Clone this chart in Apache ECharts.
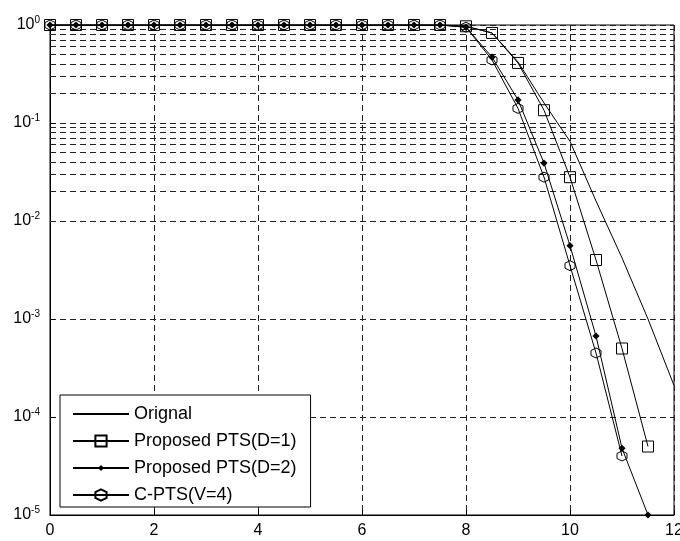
<!DOCTYPE html>
<html>
<head>
<meta charset="utf-8">
<script src="https://cdn.jsdelivr.net/npm/echarts@6/dist/echarts.min.js"></script>
<style>
  html, body { margin: 0; padding: 0; background: #fff; }
  #main { width: 680px; height: 541px; }
</style>
</head>
<body>
<div id="main"></div>
<script>
// x positions (dB) shared by all curves
var xs = [0, 0.5, 1, 1.5, 2, 2.5, 3, 3.5, 4, 4.5, 5, 5.5, 6, 6.5, 7, 7.5,
          8, 8.5, 9, 9.5, 10, 10.5, 11, 11.5, 12];

var original = [1, 1, 1, 1, 1, 1, 1, 1, 1, 1, 1, 1, 1, 1, 1, 1,
                0.97, 0.83, 0.42, 0.16, 0.065, 0.016, 4.2e-3, 1.0e-3, 2.1e-4];
var pts1 = [1, 1, 1, 1, 1, 1, 1, 1, 1, 1, 1, 1, 1, 1, 1, 1,
            0.97, 0.83, 0.41, 0.135, 0.028, 4e-3, 5e-4, 5e-5];
var pts2 = [1, 1, 1, 1, 1, 1, 1, 1, 1, 1, 1, 1, 1, 1, 1, 1,
            0.95, 0.47, 0.172, 0.039, 5.6e-3, 6.7e-4, 4.8e-5, 1e-5];
var cpts = [1, 1, 1, 1, 1, 1, 1, 1, 1, 1, 1, 1, 1, 1, 1, 1,
            0.95, 0.44, 0.141, 0.028, 3.5e-3, 4.5e-4, 4e-5];

var names = ['Orignal', 'Proposed PTS(D=1)', 'Proposed PTS(D=2)', 'C-PTS(V=4)'];
var xTicks = [0, 2, 4, 6, 8, 10, 12];
var decades = [-5, -4, -3, -2, -1, 0];

function pairs(vals) {
  return vals.map(function (v, i) { return [xs[i], v]; });
}

// minor log grid lines 2..9 in every decade
var minorLines = [];
decades.slice(0, -1).forEach(function (d) {
  for (var m = 2; m <= 9; m++) {
    minorLines.push({ yAxis: m * Math.pow(10, d) });
  }
});

var font = 'Liberation Sans, Arial, sans-serif';
var dash = { color: '#222', width: 1, type: [6, 4] };
var hexagon = 'path://M0,-10L8.66,-5L8.66,5L0,10L-8.66,5L-8.66,-5Z';
// small diamond inside a padded box so the legend copy stays small too
var dot = 'path://M0,0M20,20M10,4.5L15.5,10L10,15.5L4.5,10Z';

var myChart = echarts.init(document.getElementById('main'));

var option = {
  backgroundColor: '#fff',
  animation: false,
  grid: {
    left: 50, right: 6, top: 25, bottom: 26,
    outerBoundsMode: 'none',
    show: true, borderColor: '#000', borderWidth: 1
  },
  legend: {
    orient: 'vertical',
    left: 60, top: 395,
    data: [
      { name: names[0], itemStyle: { opacity: 0 } },
      names[1], names[2], names[3]
    ],
    backgroundColor: '#fff',
    borderColor: '#000',
    borderWidth: 1,
    padding: [10, 14, 3, 12],
    itemWidth: 56,
    itemHeight: 14,
    itemGap: 9,
    textStyle: { fontFamily: font, fontSize: 18, color: '#000' }
  },
  xAxis: {
    type: 'value',
    min: 0, max: 12, interval: 2,
    axisLine: { lineStyle: { color: '#000' } },
    axisTick: { inside: true, length: 5, lineStyle: { color: '#000' } },
    axisLabel: {
      color: '#000', fontFamily: font, fontSize: 16, margin: 8,
      customValues: xTicks
    },
    splitLine: { show: true, lineStyle: dash }
  },
  yAxis: {
    type: 'log',
    logBase: 10,
    min: 1e-5, max: 1,
    axisLine: { lineStyle: { color: '#000' } },
    axisTick: { inside: true, length: 5, lineStyle: { color: '#000' } },
    axisLabel: {
      margin: 10,
      formatter: function (v) {
        var e = Math.round(Math.log10(v));
        return '{b|10}{e|' + e + '}';
      },
      rich: {
        b: { fontFamily: font, fontSize: 16, color: '#000' },
        e: { fontFamily: font, fontSize: 10, color: '#000', padding: [0, 0, 10, 0] }
      }
    },
    splitLine: { show: true, lineStyle: dash }
  },
  series: [
    {
      name: names[0],
      type: 'line',
      data: pairs(original),
      showSymbol: false,
      symbol: 'none',
      itemStyle: { color: '#000' },
      lineStyle: { color: '#000', width: 1 },
      z: 3,
      markLine: {
        silent: true,
        symbol: 'none',
        label: { show: false },
        lineStyle: dash,
        data: minorLines,
        z: 1
      }
    },
    {
      name: names[1],
      type: 'line',
      data: pairs(pts1),
      symbol: 'rect',
      symbolSize: 11,
      itemStyle: { color: 'rgba(0,0,0,0)', borderColor: '#000', borderWidth: 1 },
      lineStyle: { color: '#000', width: 1 },
      z: 4
    },
    {
      name: names[2],
      type: 'line',
      data: pairs(pts2),
      symbol: dot,
      symbolSize: 13,
      itemStyle: { color: '#000', borderWidth: 0 },
      lineStyle: { color: '#000', width: 1 },
      z: 4
    },
    {
      name: names[3],
      type: 'line',
      data: pairs(cpts),
      symbol: hexagon,
      symbolSize: 10,
      itemStyle: { color: 'rgba(0,0,0,0)', borderColor: '#000', borderWidth: 1 },
      lineStyle: { color: '#000', width: 1 },
      z: 4
    }
  ]
};

myChart.setOption(option);
</script>
</body>
</html>
